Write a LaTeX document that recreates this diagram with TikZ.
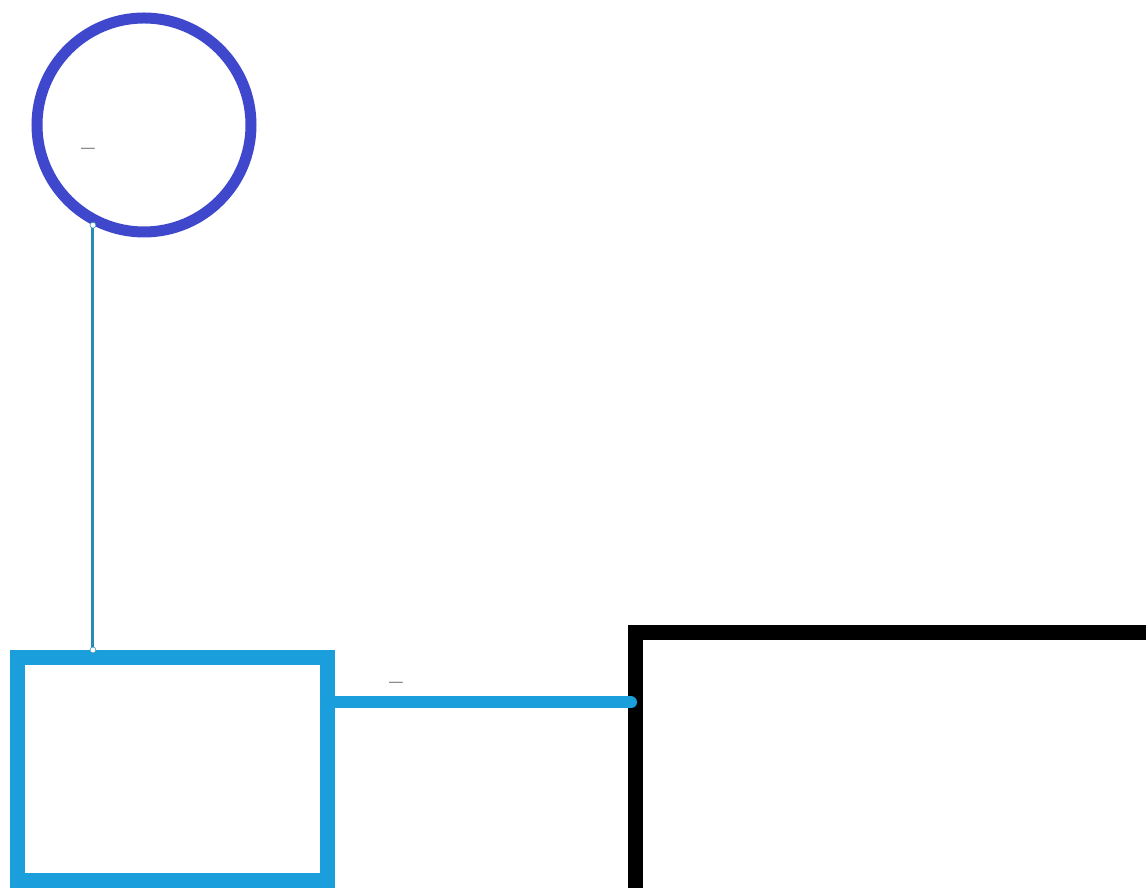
\documentclass[tikz,border=0pt]{standalone}
\usepackage{tikz}
\usetikzlibrary{positioning,calc}
\usepackage{xcolor}
\definecolor{paintblue}{RGB}{63,72,204}
\definecolor{skyblue}{RGB}{27,158,220}
\definecolor{tealline}{RGB}{40,140,176}
\definecolor{dashgrey}{RGB}{80,80,80}

\begin{document}
\begin{tikzpicture}[
    ring/.style={circle, draw=paintblue, line width=0.22cm, minimum size=4.28cm, inner sep=0pt},
    bluebox/.style={rectangle, draw=skyblue, line width=0.3cm, minimum width=6.2cm, minimum height=4.46cm, inner sep=0pt},
    blackbox/.style={rectangle, draw=black, line width=0.3cm, minimum width=14cm, minimum height=8cm, inner sep=0pt},
    thin link/.style={draw=tealline, line width=0.06cm},
    thick link/.style={draw=skyblue, line width=0.24cm, line cap=round},
    endpt/.style={fill=white, draw=tealline, line width=0.3pt},
    tick/.style={text=dashgrey, font=\fontsize{14}{16}\selectfont\bfseries, inner sep=0pt}
]
    \useasboundingbox (0,0) rectangle (22.92,17.76);
    \node[ring] (circ) at (2.88, 15.26) {};
    \node[bluebox] (blue) at (3.45, 2.38) {};
    \node[blackbox] (blk) at (19.71, 1.11) {};
    \coordinate (top) at (circ.243);
    \coordinate (bot) at (top |- blue.north);
    \coordinate (jl) at ([yshift=1.33cm]blue.east);
    \coordinate (jr) at ([xshift=0.06cm]jl -| blk.west);
    \draw[thin link] (top) -- (bot);
    \draw[thick link] (jl) -- (jr);
    \filldraw[endpt] (top) circle (0.06cm);
    \filldraw[endpt] (bot) circle (0.06cm);
    \node[tick] (t1) at (1.76, 14.72) {--};
    \node[tick] (t2) at (7.92, 4.04) {--};
\end{tikzpicture}
\end{document}
